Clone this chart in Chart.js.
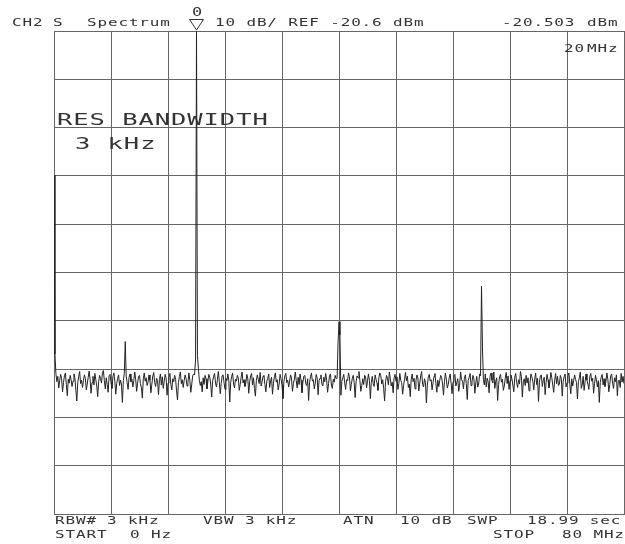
<!DOCTYPE html>
<html>
<head>
<meta charset="utf-8">
<script src="https://cdn.jsdelivr.net/npm/chart.js@4.4.1/dist/chart.umd.min.js"></script>
<style>
  html, body { margin: 0; padding: 0; background: #fff; }
  #wrap { position: relative; width: 625px; height: 544px; overflow: hidden; }
  #plot { position: absolute; left: 0; top: 0; }
  .t {
    position: absolute;
    font-family: "DejaVu Sans Mono", monospace;
    font-size: 11px;
    line-height: 11px;
    color: #333;
    white-space: pre;
    letter-spacing: 0.6px;
    transform: scaleX(1.45);
    transform-origin: 0 0;
  }
  .big {
    font-size: 15px;
    line-height: 15px;
    letter-spacing: 0.55px;
    transform: scaleX(1.7);
  }
  .mk { font-size: 13px; line-height: 13px; transform: scaleX(1.3); }
</style>
</head>
<body>
<div id="wrap">
  <canvas id="plot" width="625" height="544"></canvas>

  <div class="t" style="left:12px;top:17px">CH2</div>
  <div class="t" style="left:53px;top:17px">S</div>
  <div class="t" style="left:87px;top:17px">Spectrum</div>
  <div class="t mk" style="left:192px;top:5px">0</div>
  <div class="t" style="left:215px;top:17px">10 dB/ REF -20.6 dBm</div>
  <div class="t" style="left:502px;top:17px">-20.503</div>
  <div class="t" style="left:587px;top:17px">dBm</div>
  <div class="t" style="left:564px;top:43px">20</div>
  <div class="t" style="left:587px;top:43px">MHz</div>

  <div class="t big" style="left:57px;top:113px">RES BANDWIDTH</div>
  <div class="t big" style="left:75px;top:137px">3 kHz</div>

  <div class="t" style="left:55px;top:515px">RBW#</div>
  <div class="t" style="left:107px;top:515px">3 kHz</div>
  <div class="t" style="left:203px;top:515px">VBW 3 kHz</div>
  <div class="t" style="left:343px;top:515px">ATN</div>
  <div class="t" style="left:400px;top:515px">10 dB</div>
  <div class="t" style="left:467px;top:515px">SWP</div>
  <div class="t" style="left:527px;top:515px">18.99 sec</div>
  <div class="t" style="left:55px;top:529px">START</div>
  <div class="t" style="left:130px;top:529px">0 Hz</div>
  <div class="t" style="left:493px;top:529px">STOP</div>
  <div class="t" style="left:562px;top:529px">80 MHz</div>
</div>

<script>
// sweep settings
const START_MHZ = 0;
const STOP_MHZ = 80;
const DIV_MHZ = 8;
const REF_DBM = -20.6;
const DB_PER_DIV = 10;
const DIVS = 10;
const MARKER_MHZ = 20;

// trace, 601 points from START to STOP
const TRACE_DBM = [
  -50.5, -87.5, -91.5, -93.2, -92.1, -94.5, -93.0, -91.7, -92.6, -95.3, -93.4, -92.0, -91.4, -93.8, -96.1, -92.7, -93.5, -91.9, -92.8, -94.2,
  -93.1, -91.6, -92.4, -95.0, -97.2, -93.3, -92.2, -91.1, -93.6, -92.9, -94.4, -93.0, -91.8, -92.5, -94.9, -93.7, -92.3, -91.0, -92.7, -95.6,
  -93.4, -92.1, -93.9, -91.5, -92.8, -94.1, -96.3, -93.2, -91.9, -92.6, -93.5, -91.3, -90.9, -93.0, -94.7, -92.4, -93.8, -95.4, -92.0, -91.7,
  -93.3, -94.6, -92.2, -91.4, -93.1, -95.8, -93.6, -92.5, -91.8, -94.0, -92.9, -93.7, -97.5, -93.0, -91.5, -84.9, -92.0, -93.4, -94.8, -92.3,
  -91.6, -93.2, -92.7, -94.3, -93.0, -91.2, -92.8, -95.2, -93.5, -92.1, -91.9, -93.6, -94.5, -96.6, -92.6, -91.4, -93.1, -92.4, -94.0, -93.3,
  -91.8, -92.9, -95.5, -93.7, -92.0, -91.3, -93.4, -94.2, -92.5, -93.0, -95.9, -92.8, -91.6, -93.9, -92.2, -94.6, -93.1, -91.7, -92.4, -96.0,
  -93.5, -92.3, -91.5, -93.8, -94.9, -92.6, -93.2, -91.9, -92.7, -95.1, -97.0, -93.4, -92.1, -91.2, -93.6, -92.8, -94.4, -93.0, -91.8, -92.5,
  -94.1, -93.3, -91.4, -92.9, -95.4, -93.7, -92.0, -91.6, -91.8, -88.5, -20.5, -87.8, -90.5, -92.9, -94.0, -93.2, -95.3, -92.4, -93.8, -91.9,
  -92.6, -94.7, -93.1, -91.7, -92.3, -93.9, -96.4, -93.0, -92.2, -91.5, -93.5, -94.3, -92.8, -91.1, -93.2, -95.7, -93.6, -92.0, -91.8, -93.4,
  -94.8, -92.5, -93.0, -91.6, -92.9, -97.4, -93.3, -92.1, -91.4, -93.7, -94.5, -92.7, -93.1, -91.9, -92.4, -95.0, -93.8, -92.3, -91.2, -93.5,
  -92.8, -94.2, -93.4, -91.7, -92.6, -95.6, -93.2, -92.0, -91.5, -93.9, -92.4, -94.6, -96.2, -93.0, -91.8, -92.7, -93.6, -91.3, -94.1, -93.3,
  -92.1, -91.9, -93.8, -95.3, -93.1, -92.5, -91.6, -94.4, -93.0, -92.3, -95.8, -93.5, -92.2, -91.4, -93.3, -92.8, -94.9, -93.7, -91.7, -92.6,
  -93.9, -96.7, -93.2, -92.0, -91.5, -93.4, -92.9, -94.3, -93.1, -91.8, -92.4, -95.2, -93.6, -92.7, -91.2, -93.0, -94.5, -92.3, -93.8, -91.6,
  -92.9, -95.5, -93.3, -92.1, -91.9, -93.6, -94.0, -92.6, -97.1, -93.4, -92.2, -91.4, -93.1, -92.8, -94.7, -93.5, -91.7, -92.4, -95.9, -93.0,
  -92.5, -91.8, -93.7, -94.1, -92.3, -93.2, -91.5, -92.9, -95.4, -93.6, -92.0, -91.6, -93.9, -94.6, -92.7, -93.3, -91.9, -92.6, -92.5, -85.0,
  -80.8, -83.5, -96.0, -93.1, -92.4, -91.7, -93.5, -94.8, -92.8, -93.0, -91.4, -92.2, -95.1, -93.8, -92.5, -91.9, -93.4, -96.5, -93.2, -92.0,
  -92.4, -91.1, -93.0, -95.2, -94.0, -92.6, -93.8, -91.9, -92.2, -94.5, -93.1, -91.6, -92.9, -96.7, -93.4, -92.1, -93.6, -94.2, -91.8, -92.7,
  -93.5, -95.0, -92.3, -91.4, -92.0, -93.7, -92.8, -94.6, -97.2, -93.2, -91.9, -92.5, -93.9, -91.2, -92.6, -94.1, -93.3, -95.5, -92.4, -91.7,
  -93.1, -92.2, -94.8, -93.6, -91.5, -92.9, -93.4, -95.8, -94.0, -92.7, -91.3, -93.0, -92.1, -94.4, -93.7, -96.3, -92.8, -91.6, -93.2, -92.5,
  -94.7, -93.0, -91.8, -92.4, -95.1, -93.5, -92.0, -91.1, -93.8, -94.3, -92.6, -93.3, -97.6, -93.9, -92.2, -91.7, -93.1, -92.8, -94.9, -93.4,
  -92.1, -91.5, -93.6, -95.4, -92.9, -94.2, -93.0, -91.9, -92.3, -93.7, -96.0, -93.2, -91.4, -92.7, -94.5, -93.8, -92.4, -91.6, -93.5, -95.7,
  -93.3, -92.0, -91.7, -94.1, -93.4, -92.6, -95.2, -93.9, -91.2, -92.8, -93.1, -94.7, -92.5, -91.8, -93.6, -96.9, -93.0, -92.3, -91.5, -94.0,
  -93.2, -91.9, -92.6, -95.6, -93.4, -92.1, -94.3, -93.7, -91.6, -92.0, -73.4, -86.0, -92.8, -93.9, -91.6, -94.3, -92.5, -93.2, -95.5, -92.1,
  -91.4, -92.9, -93.5, -91.2, -94.6, -93.1, -92.4, -97.1, -93.8, -92.2, -91.7, -93.3, -92.7, -95.0, -94.1, -92.5, -91.3, -93.6, -92.0, -94.8,
  -93.0, -91.8, -92.6, -93.9, -95.3, -92.3, -91.5, -93.4, -94.4, -92.8, -93.7, -91.1, -92.1, -96.4, -93.2, -92.6, -94.0, -91.9, -93.5, -92.4,
  -95.1, -93.6, -91.6, -92.2, -93.1, -94.9, -92.7, -91.4, -93.8, -92.5, -97.3, -93.3, -92.0, -91.8, -94.2, -93.0, -92.3, -95.9, -93.4, -91.7,
  -92.8, -94.5, -93.2, -91.3, -92.4, -93.9, -95.4, -92.9, -91.5, -93.6, -92.1, -94.0, -93.7, -91.9, -92.6, -96.2, -93.1, -92.2, -91.6, -94.3,
  -93.5, -92.0, -91.4, -93.8, -95.7, -92.6, -94.1, -93.0, -91.8, -92.7, -93.4, -96.8, -93.2, -92.4, -91.2, -94.6, -93.9, -92.1, -95.0, -93.3,
  -91.6, -92.9, -93.7, -94.8, -92.2, -91.5, -93.1, -92.5, -95.6, -93.6, -91.9, -92.8, -94.3, -93.0, -97.5, -93.4, -92.3, -91.7, -93.9, -92.6,
  -94.2, -93.1, -91.4, -92.7, -95.3, -93.8, -92.0, -91.6, -93.5, -94.6, -92.4, -93.2, -91.8, -96.1, -93.0, -92.9, -94.4, -91.5, -93.3, -92.1,
  -93.6
];

const GRID_COLOR = "#666";
const TRACE_COLOR = "#222";

const stepMHz = (STOP_MHZ - START_MHZ) / (TRACE_DBM.length - 1);
const points = TRACE_DBM.map((dbm, i) => ({ x: START_MHZ + i * stepMHz, y: dbm }));

// marker triangle above the graticule, placed through the x scale
const markerPlugin = {
  id: "marker",
  afterDraw(chart) {
    const x = chart.scales.x.getPixelForValue(MARKER_MHZ);
    const ctx = chart.ctx;
    ctx.save();
    ctx.strokeStyle = "#333";
    ctx.lineWidth = 1;
    ctx.beginPath();
    ctx.moveTo(x - 7, 19.5);
    ctx.lineTo(x + 7, 19.5);
    ctx.lineTo(x, 30);
    ctx.closePath();
    ctx.stroke();
    ctx.restore();
  },
};

new Chart(document.getElementById("plot"), {
  type: "line",
  data: {
    datasets: [{
      data: points,
      borderColor: TRACE_COLOR,
      borderWidth: 1,
      pointRadius: 0,
      tension: 0,
      fill: false,
    }],
  },
  options: {
    responsive: false,
    animation: false,
    devicePixelRatio: 1,
    layout: { padding: { left: 54, top: 31, right: 1, bottom: 30 } },
    plugins: { legend: { display: false }, tooltip: { enabled: false } },
    scales: {
      x: {
        type: "linear",
        min: START_MHZ,
        max: STOP_MHZ,
        ticks: { display: false, stepSize: DIV_MHZ },
        grid: { color: GRID_COLOR, lineWidth: 1, drawTicks: false },
        border: { color: GRID_COLOR },
      },
      y: {
        min: REF_DBM - DB_PER_DIV * DIVS,
        max: REF_DBM,
        ticks: { display: false, stepSize: DB_PER_DIV },
        grid: { color: GRID_COLOR, lineWidth: 1, drawTicks: false },
        border: { color: GRID_COLOR },
      },
    },
  },
  plugins: [markerPlugin],
});
</script>
</body>
</html>
